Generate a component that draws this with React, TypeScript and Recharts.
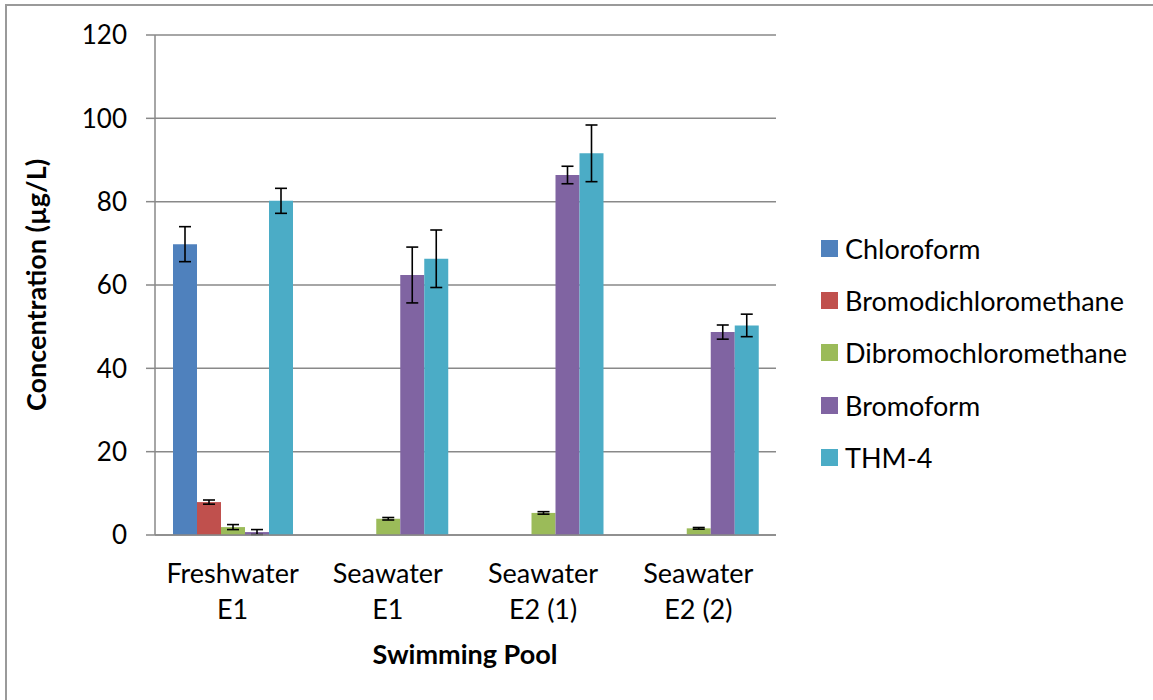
import React from "react";
import { BarChart, Bar, XAxis, YAxis, CartesianGrid, ErrorBar, Legend, Label } from "recharts";

const categoryLine1 = ["Freshwater", "Seawater", "Seawater", "Seawater"];
const categoryLine2 = ["E1", "E1", "E2 (1)", "E2 (2)"];

const chloroform = [69.8, null, null, null];
const chloroformErr = [4.2, null, null, null];
const bromodichloromethane = [7.9, null, null, null];
const bromodichloromethaneErr = [0.5, null, null, null];
const dibromochloromethane = [1.9, 3.9, 5.3, 1.6];
const dibromochloromethaneErr = [0.6, 0.3, 0.3, 0.2];
const bromoform = [0.7, 62.4, 86.4, 48.7];
const bromoformErr = [0.6, 6.7, 2.1, 1.7];
const thm4 = [80.2, 66.3, 91.6, 50.3];
const thm4Err = [3.0, 6.9, 6.8, 2.7];

const yTicks = [0, 20, 40, 60, 80, 100, 120];

const seriesNames = ["Chloroform", "Bromodichloromethane", "Dibromochloromethane", "Bromoform", "THM-4"];
const seriesColors = ["#4F81BD", "#C0504D", "#9BBB59", "#8064A2", "#4BACC6"];
const seriesKeys = ["chl", "bdcm", "dbcm", "brf", "thm"];

const data = categoryLine1.map((c, i) => ({
  name: c + " " + categoryLine2[i],
  line1: c,
  line2: categoryLine2[i],
  chl: chloroform[i],
  chlErr: chloroformErr[i],
  bdcm: bromodichloromethane[i],
  bdcmErr: bromodichloromethaneErr[i],
  dbcm: dibromochloromethane[i],
  dbcmErr: dibromochloromethaneErr[i],
  brf: bromoform[i],
  brfErr: bromoformErr[i],
  thm: thm4[i],
  thmErr: thm4Err[i],
}));

const FONT = "Lato, 'Open Sans', sans-serif";
const GRID = "#898989";

const XTick = (props: any) => {
  const { x, payload } = props;
  const d = data[payload.index] || data.find((e) => e.name === payload.value);
  return (
    <g>
      <text x={x} y={583} textAnchor="middle" fontFamily={FONT} fontSize={27} fill="#000">
        {d ? d.line1 : ""}
      </text>
      <text x={x} y={619} textAnchor="middle" fontFamily={FONT} fontSize={27} fill="#000">
        {d ? d.line2 : ""}
      </text>
    </g>
  );
};

const LegendContent = () => (
  <div style={{ fontFamily: FONT, fontSize: 27, color: "#000" }}>
    {seriesNames.map((n, i) => (
      <div key={n} style={{ display: "flex", alignItems: "center", height: 52.3 }}>
        <div style={{ width: 17, height: 17, background: seriesColors[i], marginRight: 7 }} />
        <span>{n}</span>
      </div>
    ))}
  </div>
);

export default function App() {
  return (
    <div style={{ position: "absolute", left: 0, top: 0, width: 1153, height: 700, overflow: "hidden", background: "#fff" }}>
      <div style={{ position: "absolute", left: 5, top: 4, width: 1300, height: 900, border: "2px solid #9a9a9a", boxSizing: "border-box" }} />
      <div style={{ position: "absolute", left: 0, top: 0 }}>
        <BarChart
          width={1153}
          height={700}
          data={data}
          margin={{ top: 35, right: 377, bottom: 0, left: 0 }}
          barCategoryGap={18}
          barGap={0}
        >
          <CartesianGrid vertical={false} stroke={GRID} strokeWidth={1.5} />
          <XAxis
            dataKey="name"
            height={165}
            tickLine={false}
            axisLine={{ stroke: GRID, strokeWidth: 1.5 }}
            tick={<XTick />}
            interval={0}
          >
            <Label
              content={() => (
                <text x={465} y={664} textAnchor="middle" fontFamily={FONT} fontWeight="bold" fontSize={27} fill="#000">
                  Swimming Pool
                </text>
              )}
            />
          </XAxis>
          <YAxis
            width={155}
            domain={[0, 120]}
            ticks={yTicks}
            interval={0}
            tickSize={9}
            tickMargin={19}
            tickLine={{ stroke: GRID, strokeWidth: 1.5 }}
            axisLine={{ stroke: GRID, strokeWidth: 1.5 }}
            tick={{ fontFamily: FONT, fontSize: 26, fill: "#000" }}
          >
            <Label
              content={() => (
                <text
                  x={46}
                  y={285}
                  transform="rotate(-90, 46, 285)"
                  textAnchor="middle"
                  fontFamily={FONT}
                  fontWeight="bold"
                  fontSize={27}
                  fill="#000"
                >
                  Concentration (µg/L)
                </text>
              )}
            />
          </YAxis>
          <Legend
            layout="vertical"
            align="center"
            verticalAlign="middle"
            content={<LegendContent />}
            wrapperStyle={{ position: "absolute", left: 821, top: 222, width: 330 }}
          />
          {seriesKeys.map((k, i) => (
            <Bar key={k} dataKey={k} name={seriesNames[i]} fill={seriesColors[i]} isAnimationActive={false}>
              <ErrorBar dataKey={k + "Err"} width={6} stroke="#000" strokeWidth={1.6} />
            </Bar>
          ))}
        </BarChart>
      </div>
    </div>
  );
}
